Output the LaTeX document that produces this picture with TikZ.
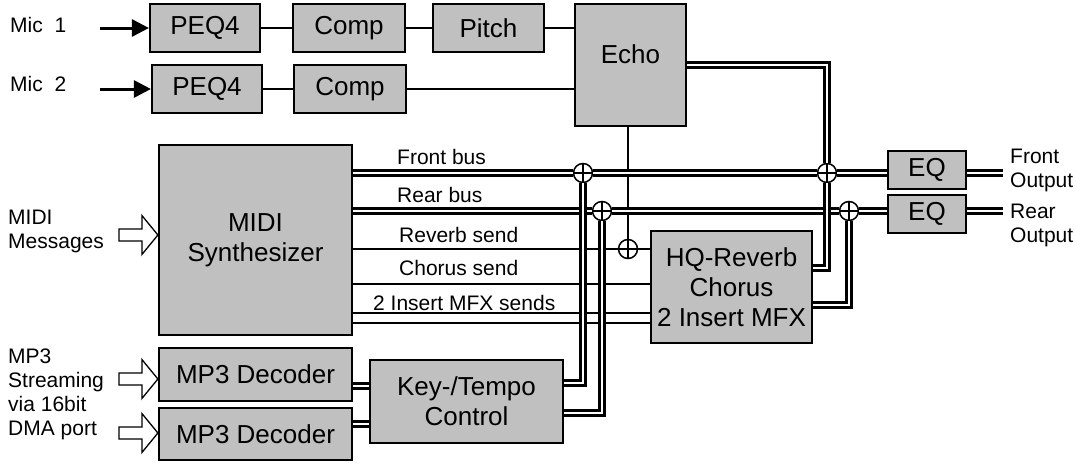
\documentclass[tikz,border=0pt]{standalone}
\usepackage{fontspec}
\setmainfont{Liberation Sans}
\usetikzlibrary{arrows.meta,calc}
\definecolor{blkgray}{RGB}{192,192,192}
\tikzset{
  blk/.style={draw, line width=2.2pt, fill=blkgray, inner sep=0pt,
              align=center, font=\fontsize{26}{30}\selectfont},
  tag/.style={font=\fontsize{21}{24}\selectfont, align=left, inner sep=0pt},
  wire/.style={line width=1.3pt},
  bus/.style={double, line width=2.5pt, double distance=2.4pt},
  junc/.style={circle, draw, fill=white, line width=1.5pt, minimum size=19pt,
               inner sep=0pt,
               path picture={\draw[line width=1.3pt]
                 (path picture bounding box.north) -- (path picture bounding box.south)
                 (path picture bounding box.west) -- (path picture bounding box.east);}},
  micin/.style={line width=3pt, -{Triangle[length=17pt,width=17pt]}},
  inarrow/.pic={\draw[line width=1.3pt, fill=white]
    (0,0) -- (-16,-19.5) -- (-16,-6) -- (-39,-6) -- (-39,6) -- (-16,6) -- (-16,19.5) -- cycle;},
}

\begin{document}
\begin{tikzpicture}[x=1pt,y=-1pt]
\useasboundingbox (0,0) rectangle (1075,463);

% blocks
\node[blk, minimum width=110pt, minimum height=48pt] (peqA) at (205,28) {PEQ4};
\node[blk, minimum width=112pt, minimum height=48pt] (compA) at (349,28) {Comp};
\node[blk, minimum width=111pt, minimum height=48pt] (pitch) at (488.5,28) {Pitch};
\node[blk, minimum width=110pt, minimum height=48pt] (peqB) at (207,89) {PEQ4};
\node[blk, minimum width=112pt, minimum height=48pt] (compB) at (350,89) {Comp};
\node[blk, minimum width=111pt, minimum height=122pt] (echo) at (630.5,65) {};
\node[font=\fontsize{26}{30}\selectfont, inner sep=0pt] (echoTxt) at ([yshift=11pt]echo.center) {Echo};
\node[blk, minimum width=193pt, minimum height=190pt] (midi) at (255.5,240) {MIDI\\Synthesizer};
\node[blk, minimum width=193pt, minimum height=53pt] (mp3A) at (255.5,374.5) {MP3 Decoder};
\node[blk, minimum width=193pt, minimum height=52pt] (mp3B) at (255.5,434) {MP3 Decoder};
\node[blk, minimum width=193pt, minimum height=83pt] (key) at (466.5,401.5) {Key-/Tempo\\Control};
\node[blk, minimum width=161pt, minimum height=112pt] (hq) at (731.5,287) {HQ-Reverb\\Chorus\\2 Insert MFX};
\node[blk, minimum width=78pt, minimum height=38pt] (eqF) at (927,170) {EQ};
\node[blk, minimum width=78pt, minimum height=38pt] (eqR) at (927,214) {EQ};

% labels
\node[tag, anchor=west] (lmicA) at (10,25) {Mic~~1};
\node[tag, anchor=west] (lmicB) at (10,84) {Mic~~2};
\node[tag, anchor=west] (lmidi) at (8,231) {MIDI\\Messages};
\node[tag, anchor=west] (lmp3) at (8,394) {MP3\\Streaming\\via 16bit\\DMA port};
\node[tag, anchor=west] (lfbus) at (397,157) {Front bus};
\node[tag, anchor=west] (lrbus) at (397,195) {Rear bus};
\node[tag, anchor=west] (lrev) at (399,235) {Reverb send};
\node[tag, anchor=west] (lcho) at (399,268) {Chorus send};
\node[tag, anchor=west] (lmfx) at (373,303) {2 Insert MFX sends};
\node[tag, anchor=west] (lfout) at (1010,170) {Front\\Output};
\node[tag, anchor=west] (lrout) at (1010,225) {Rear\\Output};

% inputs
\coordinate (micA) at (100,28);
\coordinate (micB) at (100,89);
\draw[micin] (micA) -- (peqA.west);
\draw[micin] (micB) -- (peqB.west);
\pic at (midi.west |- 0,235) {inarrow};
\pic at (mp3A.west |- 0,379) {inarrow};
\pic at (mp3B.west |- 0,433) {inarrow};

% mic chains
\draw[wire] (peqA) -- (compA);
\draw[wire] (compA) -- (pitch);
\draw[wire] (pitch.east) -- (pitch.east -| echo.west);
\draw[wire] (peqB) -- (compB);
\draw[wire] (compB.east) -- (compB.east -| echo.west);

% mixing points
\foreach \nm/\px/\py in {sumF1/583/173, sumR1/602/211, sumRv/628/249,
                         sumF2/827/173, sumR2/849/211}
  \node[junc] (\nm) at (\px,\py) {};

% effect sends
\draw[wire] (echo.south -| sumRv) -- (sumRv.north);
\draw[wire] (midi.east |- sumRv) -- (sumRv.west);
\draw[wire] (sumRv.east) -- (hq.west |- sumRv);
\foreach \yy in {284,313,323}
  \draw[wire] (midi.east |- 0,\yy) -- (hq.west |- 0,\yy);

% buses
\draw[bus] (midi.east |- sumF1) -- (sumF1.west);
\draw[bus] (sumF1.east) -- (sumF2.west);
\draw[bus] (sumF2.east) -- (eqF.west |- sumF2);
\draw[bus] (midi.east |- sumR1) -- (sumR1.west);
\draw[bus] (sumR1.east) -- (sumR2.west);
\draw[bus] (sumR2.east) -- (eqR.west |- sumR2);
\draw[bus] (echo.east) -| (sumF2.north);
\draw[bus] (hq.east |- 0,268) -| (sumF2.south);
\draw[bus] (hq.east |- 0,305) -| (sumR2.south);
\draw[bus] (key.east |- 0,383) -| (sumF1.south);
\draw[bus] (key.east |- 0,413) -| (sumR1.south);
\draw[bus] (mp3A.east |- 0,386) -- (key.west |- 0,386);
\draw[bus] (mp3B.east |- 0,424) -- (key.west |- 0,424);

% outputs
\coordinate (outF) at (1003,173);
\coordinate (outR) at (1003,211);
\draw[bus] (eqF.east |- outF) -- (outF);
\draw[bus] (eqR.east |- outR) -- (outR);
\end{tikzpicture}
\end{document}
